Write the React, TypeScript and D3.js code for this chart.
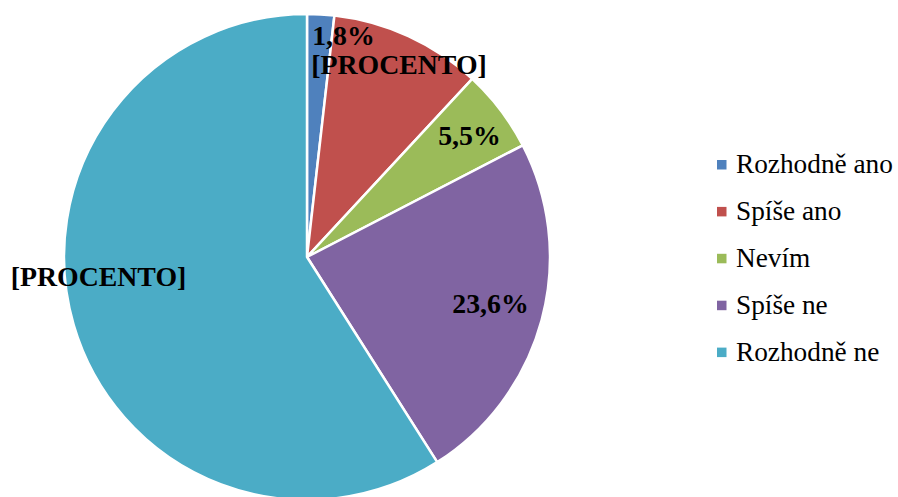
import React from "react";
import * as d3 from "d3";

const categories = ["Rozhodně ano", "Spíše ano", "Nevím", "Spíše ne", "Rozhodně ne"];
const values = [1.8, 10.1, 5.5, 23.6, 59.0];
const labels = ["1,8%", "[PROCENTO]", "5,5%", "23,6%", "[PROCENTO]"];
const colors = ["#4F81BD", "#C0504D", "#9BBB59", "#8064A2", "#4BACC6"];
// label offsets relative to pie center (layout)
const labelOffsets: [number, number][] = [
  [36.5, -212],
  [92, -183],
  [162.5, -112],
  [183.5, 56],
  [-208.5, 29],
];

export default function App() {
  const W = 898, H = 497;
  const cx = 307, cy = 257, r = 243;
  const pie = d3.pie<number>().sort(null).value((d) => d)(values);
  const arc = d3.arc<d3.PieArcDatum<number>>().innerRadius(0).outerRadius(r);
  const font = "Liberation Serif";
  return (
    <svg width={W} height={H} style={{ position: "absolute", left: 0, top: 0 }}>
      <rect width={W} height={H} fill="#fff" />
      <g transform={`translate(${cx},${cy})`}>
        {pie.map((p, i) => (
          <path key={i} d={arc(p) || ""} fill={colors[i]} stroke="#fff" strokeWidth={2.5} strokeLinejoin="round" />
        ))}
        {pie.map((p, i) => (
          <text key={"l" + i} x={labelOffsets[i][0]} y={labelOffsets[i][1]} textAnchor="middle"
            fontFamily={font} fontWeight="bold" fontSize={27.8} fill="#000">
            {labels[i]}
          </text>
        ))}
      </g>
      <g transform="translate(717,164.5)">
        {categories.map((c, i) => (
          <g key={c} transform={`translate(0,${i * 46.9})`}>
            <rect x={0} y={-4.5} width={9.5} height={9.5} fill={colors[i]} />
            <text x={19} y={8.5} fontFamily={font} fontSize={27.3} fill="#000">{c}</text>
          </g>
        ))}
      </g>
    </svg>
  );
}
